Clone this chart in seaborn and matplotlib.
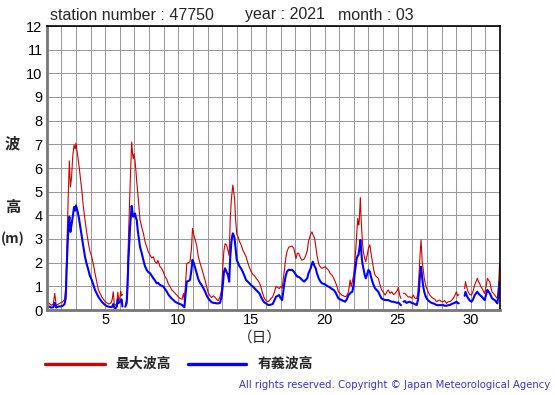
import numpy as np
import pandas as pd
import seaborn as sns
import matplotlib.pyplot as plt
from matplotlib.lines import Line2D

nan = np.nan
# day of month (fractional), max wave height (m), significant wave height (m)
day = [1.00, 1.15, 1.30, 1.45, 1.55, 1.65, 1.80, 1.95, 2.10, 2.22, 2.30, 2.40, 2.48, 2.55, 2.62, 2.70, 2.78, 2.87, 2.95, 3.00,
       3.10, 3.19, 3.30, 3.40, 3.50, 3.62, 3.73, 3.85, 3.95, 4.08, 4.20, 4.30, 4.42, 4.53, 4.65, 4.76, 4.88, 5.00, 5.12, 5.25,
       5.40, 5.48, 5.55, 5.62, 5.70, 5.80, 5.86, 5.93, 6.00, 6.06, 6.12, 6.18, 6.27, 6.38, 6.47, 6.53, 6.58, 6.64, 6.70, 6.76,
       6.81, 6.87, 6.92, 6.98, 7.04, 7.10, 7.16, 7.22, 7.27, 7.33, 7.38, 7.50, 7.61, 7.72, 7.84, 7.95, 8.07, 8.18, 8.29, 8.40,
       8.52, 8.60, 8.75, 8.87, 8.98, 9.10, 9.21, 9.32, 9.44, 9.55, 9.67, 9.78, 9.90, 10.01, 10.12, 10.25, 10.36, 10.42, 10.50, 10.58,
       10.68, 10.80, 10.90, 10.97, 11.05, 11.14, 11.25, 11.37, 11.48, 11.60, 11.72, 11.83, 11.95, 12.05, 12.17, 12.28, 12.40, 12.50, 12.62, 12.73,
       12.85, 12.96, 13.05, 13.12, 13.20, 13.30, 13.40, 13.48, 13.55, 13.62, 13.68, 13.73, 13.79, 13.85, 13.92, 14.00, 14.08, 14.18, 14.30, 14.40,
       14.52, 14.63, 14.75, 14.86, 14.98, 15.10, 15.21, 15.32, 15.44, 15.55, 15.66, 15.77, 15.88, 16.00, 16.12, 16.23, 16.35, 16.45, 16.57, 16.68,
       16.80, 16.90, 17.00, 17.10, 17.20, 17.27, 17.35, 17.43, 17.55, 17.66, 17.78, 17.90, 18.05, 18.14, 18.23, 18.36, 18.45, 18.60, 18.68, 18.82,
       18.90, 19.05, 19.14, 19.20, 19.32, 19.40, 19.48, 19.60, 19.70, 19.82, 19.95, 20.05, 20.16, 20.27, 20.38, 20.50, 20.62, 20.73, 20.85, 20.95,
       21.06, 21.18, 21.30, 21.41, 21.52, 21.64, 21.75, 21.82, 21.90, 22.00, 22.05, 22.14, 22.20, 22.27, 22.32, 22.36, 22.41, 22.45, 22.50, 22.55,
       22.60, 22.66, 22.74, 22.82, 22.91, 23.00, 23.10, 23.18, 23.27, 23.36, 23.45, 23.56, 23.68, 23.80, 23.90, 24.02, 24.14, 24.25, 24.36, 24.48,
       24.60, 24.72, 24.82, 24.95, 25.05, 25.15, 25.23, 25.30, 25.40, 25.50, 25.60, 25.72, 25.84, 25.95, 26.07, 26.18, 26.30, 26.38, 26.45, 26.52,
       26.60, 26.64, 26.68, 26.75, 26.82, 26.90, 26.98, 27.10, 27.20, 27.32, 27.43, 27.55, 27.66, 27.78, 27.89, 28.00, 28.11, 28.22, 28.34, 28.45,
       28.57, 28.68, 28.80, 28.90, 29.02, 29.10, 29.18, 29.35, 29.58, 29.64, 29.73, 29.82, 29.93, 30.05, 30.16, 30.27, 30.36, 30.45, 30.52, 30.60,
       30.68, 30.77, 30.86, 30.95, 31.05, 31.14, 31.22, 31.30, 31.38, 31.45, 31.55, 31.64, 31.73, 31.82, 31.90, 31.97, 32.00]

max_wave = [0.25, 0.30, 0.20, 0.25, 0.70, 0.20, 0.25, 0.30, 0.35, 0.45, 0.90, 3.10, 5.00, 6.30, 5.20, 5.60, 6.50, 6.97, 6.80, 7.05,
            6.60, 6.20, 5.60, 5.07, 4.40, 3.80, 3.30, 2.83, 2.50, 2.25, 1.90, 1.56, 1.20, 0.85, 0.70, 0.56, 0.45, 0.35, 0.30, 0.25,
            0.30, 0.45, 0.77, 0.25, 0.20, 0.30, 0.75, 0.40, 0.50, 0.80, 0.60, 0.65, nan, 0.25, 0.42, 1.60, 2.80, 4.00, 5.20, 6.20,
            7.10, 6.60, 6.40, 6.60, 6.30, 5.90, 5.40, 5.00, 4.65, 4.20, 3.80, 3.50, 3.25, 2.90, 2.67, 2.45, 2.32, 2.20, 2.25, 2.05,
            1.97, 2.10, 1.83, 1.75, 1.60, 1.40, 1.30, 1.10, 0.99, 0.85, 0.78, 0.70, 0.63, 0.55, 0.49, 0.45, 0.70, 0.35, 1.20, 1.97,
            2.00, 2.04, 2.60, 3.45, 3.20, 3.00, 2.75, 2.25, 2.00, 1.75, 1.50, 1.25, 0.95, 0.72, 0.60, 0.52, 0.60, 0.55, 0.45, 0.40,
            0.55, 0.85, 1.90, 2.50, 2.80, 2.75, 2.50, 2.30, 3.80, 4.60, 5.00, 5.28, 5.00, 4.70, 3.80, 3.20, 3.10, 2.90, 2.75, 2.55,
            2.40, 2.25, 2.00, 1.80, 1.62, 1.50, 1.45, 1.34, 1.25, 1.15, 0.95, 0.70, 0.50, 0.40, 0.35, 0.40, 0.50, 0.55, 0.75, 1.00,
            0.95, 0.90, 1.00, 0.92, 1.40, 1.76, 2.20, 2.46, 2.65, 2.68, 2.70, 2.60, 2.18, 2.40, 2.40, 2.20, 2.10, 2.15, 2.25, 2.50,
            2.90, 3.20, 3.30, 3.20, 3.03, 2.70, 2.32, 1.95, 1.83, 1.76, 1.80, 1.83, 1.75, 1.69, 1.55, 1.48, 1.35, 1.20, 1.00, 0.77,
            0.70, 0.63, 0.60, 0.56, 0.60, 0.77, 1.27, 1.00, 1.20, 1.50, 1.90, 2.60, 3.20, 3.87, 3.60, 3.60, 4.20, 4.75, 3.90, 3.30,
            2.80, 2.46, 2.20, 2.04, 2.30, 2.60, 2.75, 2.40, 2.04, 1.70, 1.48, 1.40, 1.34, 1.05, 0.85, 0.75, 0.63, 0.75, 0.85, 0.70,
            0.77, 0.65, 0.70, 0.80, 0.95, 0.60, 0.49, nan, 0.70, 0.70, 0.63, 0.55, 0.56, 0.50, 0.63, 0.50, 0.49, 0.70, 1.34, 2.20,
            2.96, 2.50, 2.04, 1.70, 1.34, 1.10, 0.92, 0.75, 0.63, 0.55, 0.49, 0.45, 0.35, 0.40, 0.42, 0.35, 0.35, 0.40, 0.28, 0.35,
            0.35, 0.40, 0.49, 0.60, 0.77, 0.60, 0.65, nan, 0.90, 1.20, 0.95, 0.77, 0.65, 0.63, 0.80, 1.06, 1.20, 1.34, 1.20, 1.13,
            1.00, 0.92, 0.80, 0.70, 1.00, 1.34, 1.25, 1.20, 0.95, 0.77, 0.70, 0.63, 0.55, 0.49, 1.00, 1.90, 1.95]

sig_wave = [0.15, 0.15, 0.10, 0.12, 0.30, 0.10, 0.15, 0.15, 0.18, 0.25, 0.50, 2.30, 3.50, 3.94, 3.30, 3.60, 3.94, 4.35, 4.20, 4.42,
            4.20, 3.94, 3.50, 3.10, 2.70, 2.25, 1.95, 1.69, 1.45, 1.27, 1.05, 0.85, 0.70, 0.56, 0.45, 0.35, 0.28, 0.21, 0.16, 0.14,
            0.12, 0.14, 0.25, 0.10, 0.07, 0.15, 0.45, 0.30, 0.35, 0.40, 0.45, 0.15, nan, 0.14, 0.30, 1.00, 2.00, 2.80, 3.50, 4.00,
            4.40, 4.10, 3.94, 4.00, 4.08, 3.90, 3.80, 3.40, 3.17, 2.90, 2.67, 2.40, 2.11, 1.85, 1.69, 1.60, 1.55, 1.45, 1.34, 1.25,
            1.13, 1.15, 1.06, 1.02, 0.99, 0.88, 0.78, 0.65, 0.56, 0.48, 0.42, 0.35, 0.31, 0.28, 0.25, 0.22, 0.15, 0.12, 0.70, 1.20,
            1.22, 1.27, 1.70, 2.12, 2.00, 1.80, 1.55, 1.30, 1.15, 1.05, 0.92, 0.78, 0.60, 0.49, 0.40, 0.33, 0.30, 0.30, 0.28, 0.28,
            0.30, 0.56, 1.10, 1.60, 1.76, 1.60, 1.48, 1.20, 2.20, 2.80, 3.10, 3.24, 3.15, 3.03, 2.60, 2.10, 2.00, 1.85, 1.75, 1.62,
            1.45, 1.27, 1.20, 1.13, 1.05, 0.99, 0.92, 0.85, 0.78, 0.70, 0.55, 0.42, 0.32, 0.28, 0.22, 0.21, 0.23, 0.25, 0.40, 0.56,
            0.60, 0.63, 0.50, 0.42, 0.90, 1.20, 1.45, 1.62, 1.70, 1.69, 1.70, 1.62, 1.48, 1.41, 1.40, 1.34, 1.28, 1.20, 1.25, 1.34,
            1.55, 1.76, 1.95, 2.04, 1.85, 1.76, 1.55, 1.34, 1.22, 1.13, 1.10, 1.08, 1.02, 0.99, 0.95, 0.89, 0.85, 0.77, 0.62, 0.49,
            0.45, 0.42, 0.38, 0.35, 0.45, 0.63, 0.70, 0.75, 0.77, 1.10, 1.48, 1.90, 2.18, 2.30, 2.32, 2.50, 2.70, 2.96, 2.60, 2.18,
            1.95, 1.76, 1.50, 1.34, 1.50, 1.69, 1.62, 1.40, 1.20, 1.05, 0.92, 0.85, 0.77, 0.60, 0.49, 0.45, 0.42, 0.42, 0.42, 0.38,
            0.35, 0.35, 0.33, 0.30, 0.32, 0.25, 0.20, nan, 0.35, 0.38, 0.30, 0.33, 0.35, 0.30, 0.28, 0.25, 0.21, 0.40, 0.77, 1.40,
            1.83, 1.60, 1.34, 1.00, 0.77, 0.60, 0.49, 0.40, 0.35, 0.30, 0.28, 0.25, 0.21, 0.20, 0.21, 0.20, 0.21, 0.18, 0.18, 0.20,
            0.21, 0.25, 0.28, 0.30, 0.35, 0.30, 0.28, nan, 0.60, 0.77, 0.60, 0.50, 0.40, 0.35, 0.45, 0.63, 0.70, 0.77, 0.70, 0.65,
            0.60, 0.55, 0.48, 0.42, 0.65, 0.85, 0.78, 0.70, 0.60, 0.50, 0.45, 0.42, 0.35, 0.28, 0.70, 1.20, 1.20]

series_names = ["最大波高", "有義波高"]
series_colors = ["#cc0000", "#0000ff"]
x_tick_labels = ["5", "10", "15", "20", "25", "30"]

W, H = 555, 395
sns.set_theme(style="white")
plt.rcParams['font.family'] = ['Liberation Sans', 'Noto Sans CJK JP', 'DejaVu Sans']

fig = plt.figure(figsize=(W / 100, H / 100), dpi=100)
ax = fig.add_axes([46.7 / W, 1 - 310 / H, (500 - 46.7) / W, (310 - 26) / H])


def long_frame(values):
    d = pd.DataFrame({"day": day, "h": values})
    d["seg"] = d["h"].isna().cumsum()
    return d.dropna()


ax.set_xlim(1, 32)
ax.set_ylim(0, 12)
ax.set_xticks(range(1, 33))
ax.set_xticklabels([str(d) if str(d) in x_tick_labels else "" for d in range(1, 33)])
ax.set_yticks(range(0, 13))
ax.grid(True, color="#9a9a9a", linewidth=0.75)
ax.set_axisbelow(True)

sns.lineplot(data=long_frame(max_wave), x="day", y="h", units="seg", estimator=None,
             color=series_colors[0], linewidth=0.8, ax=ax)
sns.lineplot(data=long_frame(sig_wave), x="day", y="h", units="seg", estimator=None,
             color=series_colors[1], linewidth=1.5, ax=ax)
ax.set_xlabel("")
ax.set_ylabel("")

ax.tick_params(axis="both", length=0, labelsize=10.5, colors="black")
ax.tick_params(axis="y", pad=3)
ax.tick_params(axis="x", pad=2)
for s in ["top", "right"]:
    ax.spines[s].set_color("black")
    ax.spines[s].set_linewidth(1.2)
for s in ["left", "bottom"]:
    ax.spines[s].set_color("#777777")
    ax.spines[s].set_linewidth(2)


def fx(x):
    return x / W


def fy(y):
    return 1 - y / H


# title parts
fig.text(fx(50), fy(15), "station number : 47750", fontsize=11.5, va="center", ha="left")
fig.text(fx(245), fy(15), "year : 2021", fontsize=11.5, va="center", ha="left")
fig.text(fx(338), fy(15), "month : 03", fontsize=11.5, va="center", ha="left")

# y label pieces
cjk = ['Noto Sans CJK JP', 'DejaVu Sans']
fig.text(fx(12.5), fy(143.5), "波", fontsize=11, family=cjk, fontweight="bold", ha="center", va="center")
fig.text(fx(12.5), fy(207), "高", fontsize=11, family=cjk, fontweight="bold", ha="center", va="center")
fig.text(fx(1), fy(238.5), "(m)", fontsize=10, family=cjk, fontweight="bold", ha="left", va="center")

# x label
fig.text(fx(260), fy(338), "（日）", fontsize=10.5, family=cjk, ha="center", va="center")

# legend
ly = fy(364)
fig.add_artist(Line2D([fx(45), fx(105)], [ly, ly], color=series_colors[0], linewidth=2.4, transform=fig.transFigure))
fig.text(fx(115), ly, series_names[0], fontsize=10, family=cjk, fontweight="bold", ha="left", va="center")
fig.add_artist(Line2D([fx(188), fx(246)], [ly, ly], color=series_colors[1], linewidth=2.4, transform=fig.transFigure))
fig.text(fx(258), ly, series_names[1], fontsize=10, family=cjk, fontweight="bold", ha="left", va="center")

# copyright
fig.text(fx(550), fy(385), "All rights reserved. Copyright © Japan Meteorological Agency",
         fontsize=7.3, family=['DejaVu Sans'], color="#3535c8", ha="right", va="center")

fig.savefig("out.png", dpi=100)
